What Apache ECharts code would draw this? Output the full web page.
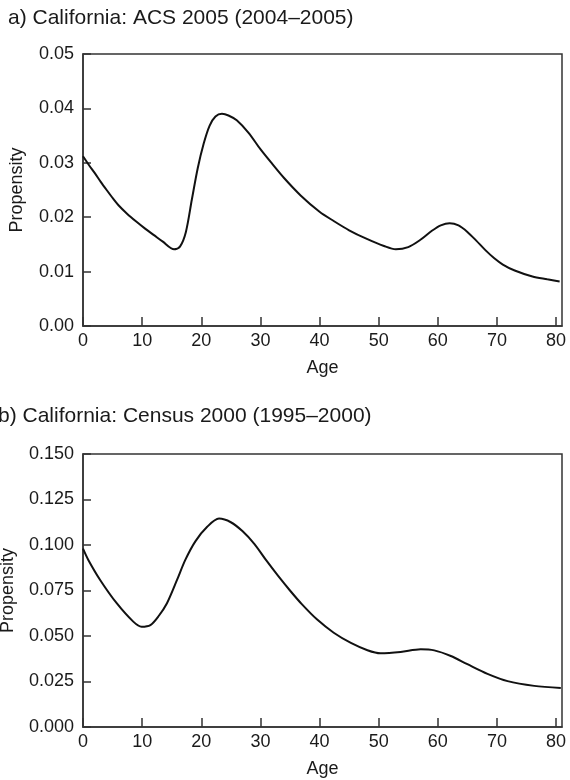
<!DOCTYPE html>
<html>
<head>
<meta charset="utf-8">
<script src="https://cdn.jsdelivr.net/npm/echarts@6/dist/echarts.min.js"></script>
<style>html,body{margin:0;padding:0;background:#fff;}#c{width:570px;height:780px;}</style>
</head>
<body>
<div id="c"></div>
<script>
// Panel a) California: ACS 2005 (2004–2005)
const agesA = [0, 1, 2, 3, 4, 5.1, 6, 7.4, 9, 10.5, 12, 13.5, 15.4, 16.4, 17.4, 18.4, 19.4, 20.4, 21.4, 22.4, 23.5, 24.6, 26, 28, 30, 32, 34, 36.8, 40, 42.4, 45, 48, 50.9, 52.9, 55, 57, 59, 60.5, 62, 63.5, 65, 66.5, 68, 69.5, 71, 73, 76, 78.5, 80.6];
const propA = [0.0312, 0.0296, 0.0281, 0.0265, 0.0250, 0.0234, 0.0222, 0.0207, 0.0192, 0.0179, 0.0167, 0.0155, 0.0141, 0.0146, 0.0173, 0.0232, 0.0290, 0.0335, 0.0368, 0.0385, 0.0390, 0.0387, 0.0378, 0.0355, 0.0325, 0.0298, 0.0272, 0.0240, 0.0210, 0.0193, 0.0176, 0.0160, 0.0147, 0.0141, 0.0145, 0.0158, 0.0175, 0.0185, 0.0189, 0.0185, 0.0173, 0.0157, 0.0140, 0.0125, 0.0113, 0.0102, 0.0091, 0.0086, 0.0082];
// Panel b) California: Census 2000 (1995–2000)
const agesB = [0, 0.9, 2.9, 5.7, 8.5, 9.9, 11.4, 12.8, 14.2, 15.9, 17.3, 19, 21, 23, 25, 27, 29, 31, 33, 35, 37, 39.6, 42.4, 45.3, 48.1, 50.3, 53.7, 57.1, 59.4, 62.2, 65, 68.4, 71.8, 76.3, 80.8];
const propB = [0.0980, 0.0918, 0.0808, 0.0680, 0.0579, 0.0551, 0.0560, 0.0610, 0.0680, 0.0808, 0.0918, 0.1020, 0.1100, 0.1145, 0.1125, 0.1075, 0.1005, 0.0915, 0.0830, 0.0750, 0.0675, 0.0590, 0.0518, 0.0462, 0.0422, 0.0405, 0.0412, 0.0427, 0.0421, 0.0390, 0.0345, 0.0292, 0.0252, 0.0226, 0.0214];
const xTicks = [0, 10, 20, 30, 40, 50, 60, 70, 80];
const titles = ['a) California: ACS 2005 (2004–2005)', 'b) California: Census 2000 (1995–2000)'];

const FONT = "'Liberation Sans', Arial, Helvetica, sans-serif";
const INK = '#1a1a1a';
const AX = '#333';
const chart = echarts.init(document.getElementById('c'), null, {renderer: 'canvas'});

function xAxis(gi) {
  return {
    type: 'value', gridIndex: gi, min: 0, max: 81, interval: 10,
    name: 'Age', nameLocation: 'middle', nameGap: 33,
    nameTextStyle: {fontFamily: FONT, fontSize: 18, color: INK},
    axisLine: {show: true, lineStyle: {color: AX, width: 1.5}},
    axisTick: {show: true, inside: true, length: 9, lineStyle: {color: AX, width: 1.5},
      customValues: xTicks},
    axisLabel: {fontFamily: FONT, fontSize: 18, color: INK, margin: 6,
      customValues: xTicks},
    splitLine: {show: false}
  };
}
function yAxis(gi, max, interval, dec, gap) {
  return {
    type: 'value', gridIndex: gi, min: 0, max: max, interval: interval,
    name: 'Propensity', nameLocation: 'middle', nameRotate: 90, nameGap: gap,
    nameTextStyle: {fontFamily: FONT, fontSize: 18, color: INK},
    axisLine: {show: true, lineStyle: {color: AX, width: 1.5}},
    axisTick: {show: true, inside: true, length: 8, lineStyle: {color: AX, width: 1.5}},
    axisLabel: {fontFamily: FONT, fontSize: 18, color: INK, margin: 9,
      formatter: v => v.toFixed(dec)},
    splitLine: {show: false}
  };
}

chart.setOption({
  animation: false,
  backgroundColor: '#fff',
  title: [
    {text: titles[0], left: 8, top: 8, padding: 0,
     textStyle: {fontFamily: FONT, fontSize: 21, fontWeight: 'normal', color: INK}},
    {text: titles[1], left: -2, top: 406, padding: 0,
     textStyle: {fontFamily: FONT, fontSize: 21, fontWeight: 'normal', color: INK}}
  ],
  grid: [
    {left: 83, top: 54, width: 479, height: 272, show: true, borderColor: AX, borderWidth: 1.5,
     backgroundColor: 'transparent', containLabel: false, outerBoundsMode: 'none'},
    {left: 83, top: 454, width: 479, height: 273, show: true, borderColor: AX, borderWidth: 1.5,
     backgroundColor: 'transparent', containLabel: false, outerBoundsMode: 'none'}
  ],
  xAxis: [xAxis(0), xAxis(1)],
  yAxis: [yAxis(0, 0.05, 0.01, 2, 57), yAxis(1, 0.15, 0.025, 3, 66)],
  series: [
    {type: 'line', xAxisIndex: 0, yAxisIndex: 0, data: agesA.map((a, i) => [a, propA[i]]),
     showSymbol: false, smooth: 0.3, lineStyle: {color: '#111', width: 2}},
    {type: 'line', xAxisIndex: 1, yAxisIndex: 1, data: agesB.map((a, i) => [a, propB[i]]),
     showSymbol: false, smooth: 0.3, lineStyle: {color: '#111', width: 2}}
  ]
});
</script>
</body>
</html>
